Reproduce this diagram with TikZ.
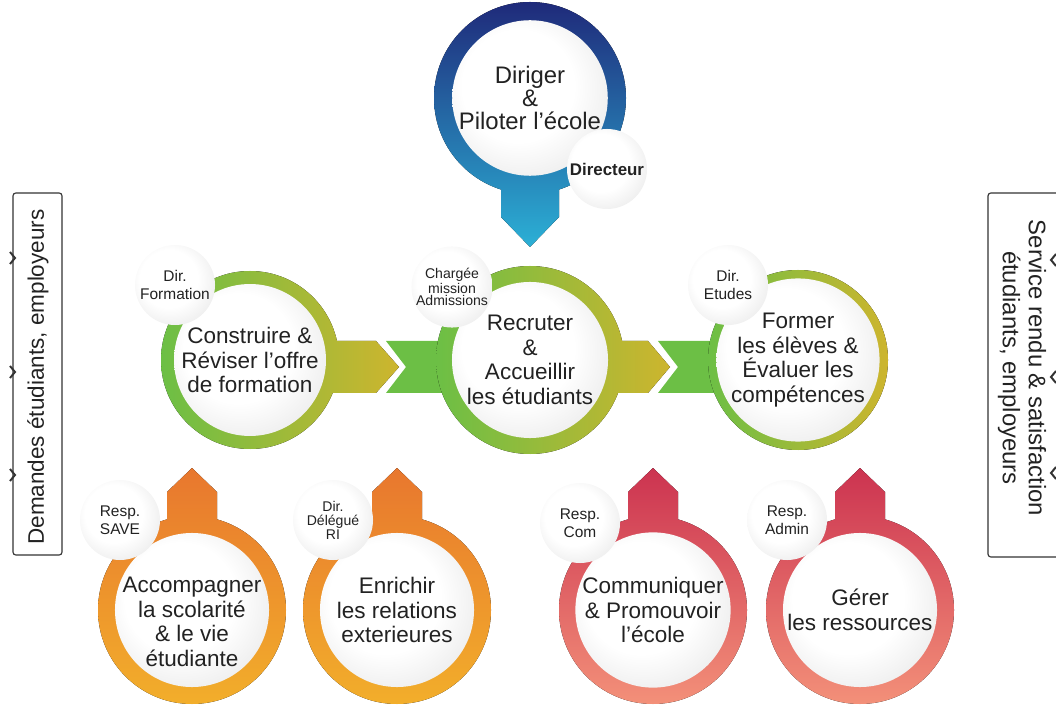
\documentclass[tikz,border=0pt]{standalone}
\usepackage{fontspec}
\setmainfont{Liberation Sans}
\usepackage{tikz}

\definecolor{navy}{HTML}{1F2A7A}
\definecolor{cyanblue}{HTML}{2BB0D6}
\definecolor{leafgreen}{HTML}{6CBF45}
\definecolor{olive}{HTML}{CDB52E}
\definecolor{orangetop}{HTML}{E8772E}
\definecolor{orangebot}{HTML}{F2AE2B}
\definecolor{redtop}{HTML}{CC3350}
\definecolor{redbot}{HTML}{F39079}
\definecolor{ink}{HTML}{222222}

\pgfdeclareradialshading{discshade}{\pgfpoint{-6bp}{6bp}}{color(0bp)=(white); color(18bp)=(white); color(32bp)=(black!8); color(50bp)=(black!22)}

\tikzset{
	core/.style={circle, minimum size=3.75cm, inner sep=0pt, align=center,
		shading=discshade, text=ink, font=\fontsize{16}{17.5}\selectfont},
	coretext/.style={align=center, text=ink, font=\fontsize{16}{17.5}\selectfont},
	badge/.style={circle, minimum size=2cm, inner sep=0pt, align=center,
		shading=discshade, text=ink, font=\fontsize{11}{12.5}\selectfont},
	sidebox/.style={draw=black!80, line width=0.8pt, rounded corners=2pt},
	sidetext/.style={align=center, text=ink, font=\fontsize{16}{18.5}\selectfont},
	chevron/.style={draw=black!80, line width=1.4pt}
}

\begin{document}
\begin{tikzpicture}[x=0.025cm, y=0.025cm]
	\useasboundingbox (0,0) rectangle (1056,704);
	\clip (0,0) rectangle (1056,704);

	% side boxes
	\draw[sidebox] (13,149) rectangle (62,511);
	\node[sidetext, rotate=90] (demandes) at (38,327) {Demandes étudiants, employeurs};
	\foreach \y in {446,332,229}
		\draw[chevron] (10,\y+6) -- (15,\y) -- (10,\y-6);

	\draw[sidebox] (988,147) rectangle (1070,511);
	\node[sidetext, rotate=-90, font=\fontsize{17}{18.5}\selectfont] (service) at (1022,336) {Service rendu \& satisfaction\\étudiants, employeurs};
	\foreach \y in {444,327,231}
		\draw[chevron] (1056,\y+6) -- (1051,\y) -- (1056,\y-6);

	% top
	\fill[top color=navy, bottom color=cyanblue] (530,606) circle (96)
		(501,560) -- (501,487) -- (530,457) -- (559,487) -- (559,560) -- cycle;
	\node[core, minimum size=3.85cm, font=\fontsize{17}{16.5}\selectfont] (diriger) at (530,606) {Diriger\\\&\\Piloter l'école};
	\node[badge, font=\bfseries\fontsize{12}{13}\selectfont] (directeur) at (607,535) {Directeur};

	% middle row
	\fill[leafgreen] (386,363) -- (406,337) -- (386,311) -- (530,311) -- (530,363) -- cycle;
	\fill[leafgreen] (658,363) -- (678,337) -- (658,311) -- (798,311) -- (798,363) -- cycle;
	\fill[left color=leafgreen, right color=olive] (250,344) circle (89)
		(250,311) -- (376,311) -- (399,337) -- (376,363) -- (250,363) -- cycle;
	\fill[left color=leafgreen, right color=olive] (530,344) circle (94)
		(530,311) -- (648,311) -- (670,337) -- (648,363) -- (530,363) -- cycle;
	\fill[left color=leafgreen, right color=olive] (798,344) circle (90);

	\node[core] (construire) at (250,344) {Construire \&\\Réviser l'offre\\de formation};
	\node[core, minimum size=3.9cm] (recruter) at (530,344) {Recruter\\\&\\Accueillir\\les étudiants};
	\node[core] (former) at (798,344) {Former\\les élèves \&\\Évaluer les\\compétences};

	\node[badge] (dirformation) at (175,419) {Dir.\\Formation};
	\node[badge, font=\fontsize{10}{9}\selectfont] (chargee) at (452,417) {Chargée\\mission\\Admissions};
	\node[badge] (diretudes) at (728,419) {Dir.\\Etudes};

	% bottom row
	\foreach \cx/\ca/\cb in {192/orangetop/orangebot, 397/orangetop/orangebot,
			653/redtop/redbot, 860/redtop/redbot}
		\fill[top color=\ca, bottom color=\cb] (\cx,94) circle (94)
			(\cx+25,150) -- (\cx+25,212) -- (\cx,236) -- (\cx-25,212) -- (\cx-25,150) -- cycle;

	\node[core, minimum size=3.85cm] (accompagner) at (192,94) {};
	\node[coretext] (accompagnertext) at (192,82) {Accompagner\\la scolarité\\\& le vie\\étudiante};
	\node[core, minimum size=3.85cm] (enrichir) at (397,94) {Enrichir\\les relations\\exterieures};
	\node[core, minimum size=3.85cm] (communiquer) at (653,94) {Communiquer\\\& Promouvoir\\l'école};
	\node[core, minimum size=3.85cm] (gerer) at (860,94) {Gérer\\les ressources};

	\node[badge] (respsave) at (120,184) {Resp.\\SAVE};
	\node[badge, font=\fontsize{10}{10}\selectfont] (dirri) at (333,184) {Dir.\\Délégué\\RI};
	\node[badge] (respcom) at (580,181) {Resp.\\Com};
	\node[badge] (respadmin) at (787,184) {Resp.\\Admin};
\end{tikzpicture}
\end{document}
